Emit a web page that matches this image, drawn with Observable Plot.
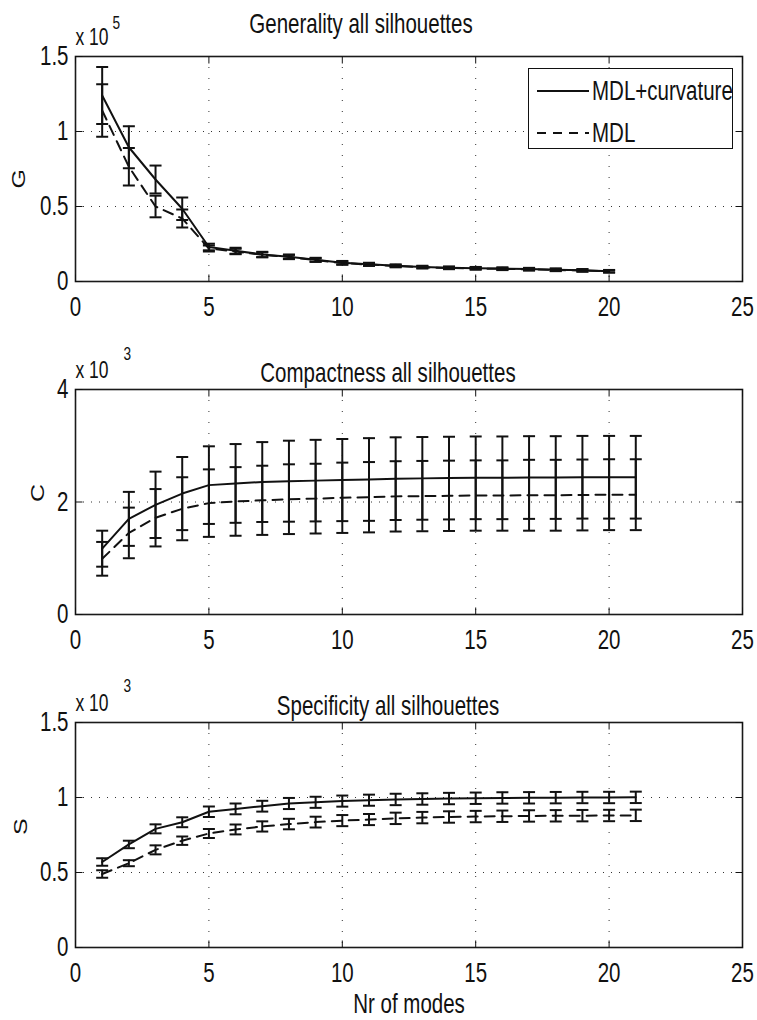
<!DOCTYPE html>
<html>
<head>
<meta charset="utf-8">
<script src="https://cdn.jsdelivr.net/npm/d3@7"></script>
<script src="https://cdn.jsdelivr.net/npm/@observablehq/plot@0.6"></script>
<style>
  html, body { margin: 0; padding: 0; background: #fff; }
  #chart { position: relative; width: 757px; height: 1020px; overflow: hidden; }
  #chart svg { display: block; }
  .legend { position: absolute; box-sizing: border-box; border: 1.5px solid #111; background: #fff;
            font-family: "Liberation Sans", Arial, sans-serif; color: #111; }
  .legend .row { position: absolute; left: 0; height: 30px; display: flex; align-items: center; white-space: nowrap; }
  .legend svg { display: block; }
  .legend span { display: inline-block; font-size: 27px; margin-left: 3px; line-height: 30px;
                 transform: scaleX(0.76); transform-origin: left center; }
</style>
</head>
<body>
<div id="chart"></div>
<script>
// ---------------- data ----------------
const modesG = [1,2,3,4,5,6,7,8,9,10,11,12,13,14,15,16,17,18,19,20];
const modesCS = [1,2,3,4,5,6,7,8,9,10,11,12,13,14,15,16,17,18,19,20,21];

// Generality (x 10^5)
const genCurvMean = [1.24,0.895,0.68,0.485,0.23,0.205,0.18,0.165,0.145,0.125,0.115,0.105,0.097,0.092,0.089,0.086,0.083,0.079,0.075,0.069];
const genCurvErr  = [0.19,0.14,0.093,0.075,0.022,0.02,0.018,0.015,0.013,0.012,0.01,0.009,0.008,0.008,0.008,0.008,0.008,0.008,0.008,0.008];
const genMdlMean  = [1.14,0.765,0.50,0.42,0.22,0.2,0.178,0.163,0.143,0.123,0.113,0.103,0.095,0.09,0.087,0.084,0.081,0.077,0.073,0.067];
const genMdlErr   = [0.175,0.125,0.072,0.06,0.02,0.018,0.016,0.014,0.012,0.011,0.009,0.008,0.008,0.008,0.008,0.008,0.008,0.008,0.008,0.008];

// Compactness (x 10^3)
const compCurvMean = [1.17,1.70,1.95,2.15,2.30,2.33,2.355,2.37,2.38,2.39,2.40,2.415,2.42,2.425,2.43,2.43,2.435,2.435,2.44,2.44,2.44];
const compCurvErr  = [0.32,0.48,0.59,0.65,0.69,0.70,0.71,0.72,0.725,0.73,0.735,0.735,0.735,0.735,0.735,0.735,0.735,0.735,0.735,0.735,0.735];
const compMdlMean  = [0.99,1.45,1.72,1.88,1.98,2.01,2.03,2.05,2.06,2.075,2.085,2.10,2.105,2.11,2.115,2.115,2.12,2.12,2.125,2.13,2.13];
const compMdlErr   = [0.30,0.45,0.51,0.56,0.60,0.61,0.615,0.62,0.62,0.625,0.625,0.625,0.625,0.625,0.625,0.625,0.63,0.63,0.63,0.63,0.63];

// Specificity (x 10^3)
const specCurvMean = [0.57,0.687,0.791,0.835,0.905,0.924,0.942,0.96,0.968,0.976,0.982,0.987,0.99,0.993,0.995,0.997,0.998,0.999,1.0,1.0,1.001];
const specCurvErr  = [0.025,0.025,0.03,0.033,0.035,0.036,0.036,0.037,0.037,0.037,0.037,0.038,0.038,0.038,0.038,0.038,0.038,0.038,0.038,0.038,0.038];
const specMdlMean  = [0.49,0.562,0.651,0.712,0.76,0.787,0.807,0.823,0.836,0.846,0.853,0.861,0.866,0.87,0.873,0.875,0.877,0.878,0.879,0.88,0.881];
const specMdlErr   = [0.025,0.02,0.03,0.028,0.03,0.033,0.034,0.035,0.036,0.037,0.037,0.038,0.038,0.038,0.038,0.038,0.038,0.038,0.038,0.038,0.038];

const xTicks = [0,5,10,15,20,25];
const seriesNames = ["MDL+curvature", "MDL"];
const xLabel = "Nr of modes";

// ---------------- helpers ----------------
const FONT = '"Liberation Sans", Arial, Helvetica, sans-serif';
const INK = "#111";
const DASH = "10,7";
const SQUEEZE = 0.76;   // horizontal compression of the (narrow) reference lettering

const capSym   = {draw(c){ c.moveTo(-6,0); c.lineTo(6,0); }};
const tickUp   = {draw(c){ c.moveTo(0,0); c.lineTo(0,-7); }};
const tickDown = {draw(c){ c.moveTo(0,0); c.lineTo(0,7); }};
const tickRight= {draw(c){ c.moveTo(0,0); c.lineTo(7,0); }};
const tickLeft = {draw(c){ c.moveTo(0,0); c.lineTo(-7,0); }};

function rows(modes, means, errs) {
  return modes.map((x, i) => ({x, y: means[i], lo: means[i] - errs[i], hi: means[i] + errs[i]}));
}

function squeezeText(svg) {
  svg.querySelectorAll("text").forEach(el => {
    const tr = el.getAttribute("transform") || "";
    if (/rotate/.test(tr)) el.setAttribute("transform", `${tr} scale(1,0.72)`);
    else el.setAttribute("transform", `${tr} scale(${SQUEEZE},1)`);
  });
  return svg;
}

function panel(o) {
  const a = rows(o.modes, o.curvMean, o.curvErr);
  const b = rows(o.modes, o.mdlMean, o.mdlErr);
  const innerX = xTicks.filter(t => t > 0 && t < 25);
  const innerY = o.yTicks.filter(t => t > o.yDomain[0] && t < o.yDomain[1]);
  const txt = {text: d => d, lineAnchor: "middle", fontFamily: FONT, fill: INK};
  const marks = [
    Plot.gridX(innerX, {stroke: "#333", strokeOpacity: 1, strokeWidth: 1, strokeDasharray: "1,10"}),
    Plot.gridY(innerY, {stroke: "#333", strokeOpacity: 1, strokeWidth: 1, strokeDasharray: "1,7"}),
    Plot.line(a, {x: "x", y: "y", stroke: INK, strokeWidth: 2}),
    Plot.line(b, {x: "x", y: "y", stroke: INK, strokeWidth: 2, strokeDasharray: DASH}),
    Plot.ruleX(a, {x: "x", y1: "lo", y2: "hi", stroke: INK, strokeWidth: 2}),
    Plot.ruleX(b, {x: "x", y1: "lo", y2: "hi", stroke: INK, strokeWidth: 2}),
    Plot.dot(a, {x: "x", y: "hi", symbol: capSym, fill: "none", stroke: INK, strokeWidth: 2}),
    Plot.dot(a, {x: "x", y: "lo", symbol: capSym, fill: "none", stroke: INK, strokeWidth: 2}),
    Plot.dot(b, {x: "x", y: "hi", symbol: capSym, fill: "none", stroke: INK, strokeWidth: 2}),
    Plot.dot(b, {x: "x", y: "lo", symbol: capSym, fill: "none", stroke: INK, strokeWidth: 2}),
    Plot.frame({stroke: "#1a1a1a", strokeWidth: 1.6}),
    Plot.dot(xTicks, {x: d => d, frameAnchor: "bottom", symbol: tickUp, fill: "none", stroke: INK, strokeWidth: 1}),
    Plot.dot(xTicks, {x: d => d, frameAnchor: "top", symbol: tickDown, fill: "none", stroke: INK, strokeWidth: 1}),
    Plot.dot(o.yTicks, {y: d => d, frameAnchor: "left", symbol: tickRight, fill: "none", stroke: INK, strokeWidth: 1}),
    Plot.dot(o.yTicks, {y: d => d, frameAnchor: "right", symbol: tickLeft, fill: "none", stroke: INK, strokeWidth: 1}),
    Plot.axisX(xTicks, {tickSize: 0, tickPadding: 15, fontSize: 27, fontFamily: FONT, label: null, tickFormat: d => String(d), fill: INK}),
    Plot.axisY(o.yTicks, {tickSize: 0, tickPadding: 7, fontSize: 27, fontFamily: FONT, label: null, tickFormat: d => String(d), fill: INK}),
    Plot.text([o.title], {...txt, frameAnchor: "top", dx: o.titleDx, dy: o.titleDy, fontSize: 27}),
    Plot.text(["x 10"], {...txt, frameAnchor: "top-left", textAnchor: "start", dy: o.expDy, fontSize: 23}),
    Plot.text([o.exp], {...txt, frameAnchor: "top-left", textAnchor: "start", dx: o.supDx, dy: o.supDy, fontSize: 18}),
    Plot.text([o.ylabel], {...txt, frameAnchor: "left", dx: o.ylabelDx, dy: o.ylabelDy, rotate: -90, fontSize: 25})
  ];
  if (o.xlabel) {
    marks.push(Plot.text([o.xlabel], {...txt, frameAnchor: "bottom", dy: 57, fontSize: 27}));
  }
  return squeezeText(Plot.plot({
    width: 757,
    height: o.height,
    marginLeft: 75,
    marginRight: 15,
    marginTop: 56,
    marginBottom: o.marginBottom,
    x: {domain: [0, 25]},
    y: {domain: o.yDomain},
    style: {background: "#fff", color: INK, fontFamily: FONT, overflow: "visible"},
    marks
  }));
}

const chart = document.getElementById("chart");

chart.append(panel({
  modes: modesG, curvMean: genCurvMean, curvErr: genCurvErr, mdlMean: genMdlMean, mdlErr: genMdlErr,
  yDomain: [0, 1.5], yTicks: [0, 0.5, 1, 1.5],
  title: "Generality all silhouettes", titleDx: -48, titleDy: -32.5,
  exp: "5", expDy: -18.5, supDx: 37, supDy: -33.5,
  ylabel: "G", ylabelDx: -56, ylabelDy: 19.5,
  height: 333, marginBottom: 52
}));

chart.append(panel({
  modes: modesCS, curvMean: compCurvMean, curvErr: compCurvErr, mdlMean: compMdlMean, mdlErr: compMdlErr,
  yDomain: [0, 4], yTicks: [0, 2, 4],
  title: "Compactness all silhouettes", titleDx: -21, titleDy: -16.5,
  exp: "3", expDy: -19, supDx: 48, supDy: -35.5,
  ylabel: "C", ylabelDx: -37.5, ylabelDy: 0,
  height: 333, marginBottom: 52
}));

chart.append(panel({
  modes: modesCS, curvMean: specCurvMean, curvErr: specCurvErr, mdlMean: specMdlMean, mdlErr: specMdlErr,
  yDomain: [0, 1.5], yTicks: [0, 0.5, 1, 1.5],
  title: "Specificity all silhouettes", titleDx: -21, titleDy: -16,
  exp: "3", expDy: -19, supDx: 48, supDy: -36,
  ylabel: "S", ylabelDx: -54, ylabelDy: 0,
  height: 354, marginBottom: 73, xlabel: xLabel
}));

// legend (inside the top panel, upper right)
const legend = document.createElement("div");
legend.className = "legend";
legend.style.left = "528px"; legend.style.top = "68px";
legend.style.width = "205px"; legend.style.height = "81px";
const rowTops = [7, 49];
seriesNames.forEach((name, i) => {
  const row = document.createElement("div");
  row.className = "row";
  row.style.top = rowTops[i] + "px";
  row.style.left = "8px";
  const s = d3.create("svg").attr("width", 52).attr("height", 6);
  s.append("line").attr("x1", 0).attr("x2", 52).attr("y1", 3).attr("y2", 3)
    .attr("stroke", INK).attr("stroke-width", 2)
    .attr("stroke-dasharray", i === 1 ? "9,7" : null);
  row.append(s.node());
  const t = document.createElement("span");
  t.textContent = name;
  row.append(t);
  legend.append(row);
});
chart.append(legend);
</script>
</body>
</html>
